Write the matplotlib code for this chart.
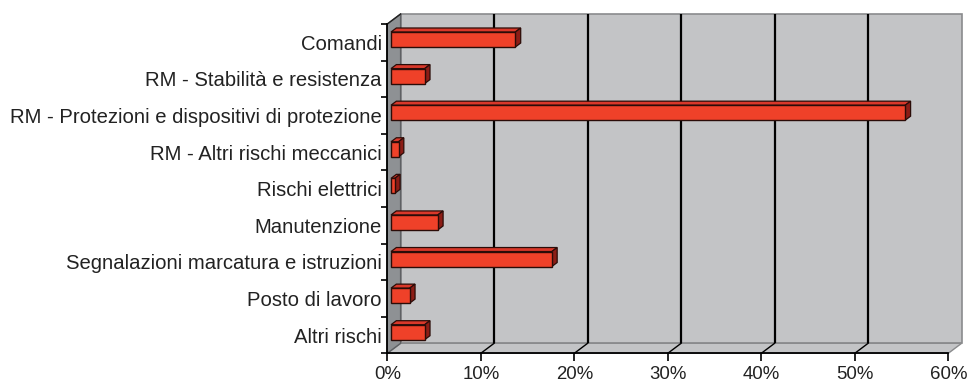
import matplotlib
matplotlib.use("Agg")
import matplotlib.pyplot as plt
from matplotlib.patches import Polygon
import numpy as np

categories = [
    "Comandi",
    "RM - Stabilità e resistenza",
    "RM - Protezioni e dispositivi di protezione",
    "RM - Altri rischi meccanici",
    "Rischi elettrici",
    "Manutenzione",
    "Segnalazioni marcatura e istruzioni",
    "Posto di lavoro",
    "Altri rischi",
]
values = [13.3, 3.6, 55.0, 0.8, 0.4, 5.0, 17.2, 2.0, 3.6]
x_ticks = [0, 10, 20, 30, 40, 50, 60]
x_tick_labels = ["0%", "10%", "20%", "30%", "40%", "50%", "60%"]

plt.rcParams["font.family"] = ["Liberation Sans", "DejaVu Sans"]

W, H, DPI = 971, 387, 100
fig = plt.figure(figsize=(W / DPI, H / DPI), dpi=DPI)
fig.patch.set_facecolor("white")

# front plane of the 3D box, in figure pixels
left_px, right_px, top_px, bottom_px = 387.3, 948.3, 24.0, 353.3
ax = fig.add_axes([left_px / W, (H - bottom_px) / H,
                   (right_px - left_px) / W, (bottom_px - top_px) / H])
ax.set_facecolor("none")

n = len(categories)
xmin, xmax = x_ticks[0], x_ticks[-1]
ax.set_xlim(xmin, xmax)
ax.set_ylim(-0.5, n - 0.5)
ypos = np.arange(n)[::-1]

# depth of the box (pixels) converted to data units
DX_PX, DY_PX = 13.3, 10.0
dx = DX_PX * (xmax - xmin) / (right_px - left_px)
dy = DY_PX * n / (bottom_px - top_px)
y0, y1 = -0.5, n - 0.5

wall_c = "#c3c4c6"
side_wall_c = "#8e9194"
wall_edge = "#8a8b8d"

# back wall
ax.add_patch(Polygon([(xmin + dx, y0 + dy), (xmax + dx, y0 + dy),
                      (xmax + dx, y1 + dy), (xmin + dx, y1 + dy)],
                     closed=True, facecolor=wall_c, edgecolor=wall_edge,
                     lw=1.2, clip_on=False, zorder=0))
# floor
ax.add_patch(Polygon([(xmin, y0), (xmax, y0), (xmax + dx, y0 + dy), (xmin + dx, y0 + dy)],
                     closed=True, facecolor=wall_c, edgecolor=wall_edge,
                     lw=1.0, clip_on=False, zorder=0.5))
# left side wall
ax.add_patch(Polygon([(xmin, y0), (xmin, y1), (xmin + dx, y1 + dy), (xmin + dx, y0 + dy)],
                     closed=True, facecolor=side_wall_c, edgecolor="#5e6063",
                     lw=1.0, clip_on=False, zorder=0.6))

# gridlines on the back wall and the floor
for v in x_ticks[1:-1]:
    ax.plot([v + dx, v + dx], [y0 + dy, y1 + dy], color="black", lw=1.6,
            clip_on=False, zorder=1, solid_capstyle="butt")
    ax.plot([v, v + dx], [y0, y0 + dy], color="black", lw=1.0,
            clip_on=False, zorder=1)
# top edge of the left wall
ax.plot([xmin, xmin + dx], [y1, y1 + dy], color="#222222", lw=1.0,
        clip_on=False, zorder=1.2)

# 3D bars
d0, d1 = 0.28, 0.68
bh = 0.41
front_c, top_c, side_c, edge_c = "#ef4129", "#d9382a", "#8c1d16", "#2b0c08"
ax.barh(ypos + d0 * dy, values, left=d0 * dx, height=bh, color=front_c,
        edgecolor=edge_c, linewidth=1.0, zorder=3, clip_on=False)
for y, v in zip(ypos, values):
    yt = y + bh / 2
    yb = y - bh / 2
    ax.add_patch(Polygon([(d0 * dx, yt + d0 * dy), (v + d0 * dx, yt + d0 * dy),
                          (v + d1 * dx, yt + d1 * dy), (d1 * dx, yt + d1 * dy)],
                         closed=True, facecolor=top_c, edgecolor=edge_c,
                         lw=0.9, zorder=2.8, clip_on=False))
    ax.add_patch(Polygon([(v + d0 * dx, yb + d0 * dy), (v + d0 * dx, yt + d0 * dy),
                          (v + d1 * dx, yt + d1 * dy), (v + d1 * dx, yb + d1 * dy)],
                         closed=True, facecolor=side_c, edgecolor=edge_c,
                         lw=0.9, zorder=2.9, clip_on=False))

# axes lines and ticks
for s in ["top", "right"]:
    ax.spines[s].set_visible(False)
for s in ["left", "bottom"]:
    ax.spines[s].set_color("black")
    ax.spines[s].set_linewidth(1.3)
    ax.spines[s].set_zorder(4)

ax.set_xticks(x_ticks)
ax.set_xticklabels(x_tick_labels, fontsize=13.4, color="#222222")
ax.tick_params(axis="x", direction="out", length=5.8, width=1.2, pad=3.2)

ax.set_yticks(np.arange(n + 1) - 0.5)
ax.set_yticklabels([])
ax.tick_params(axis="y", which="major", direction="out", length=4.3, width=1.2)
ax.set_yticks(ypos, minor=True)
ax.set_yticklabels(categories, minor=True, fontsize=14.6, color="#222222")
ax.tick_params(axis="y", which="minor", length=0, pad=4.0)

fig.savefig("out.png", dpi=DPI)
